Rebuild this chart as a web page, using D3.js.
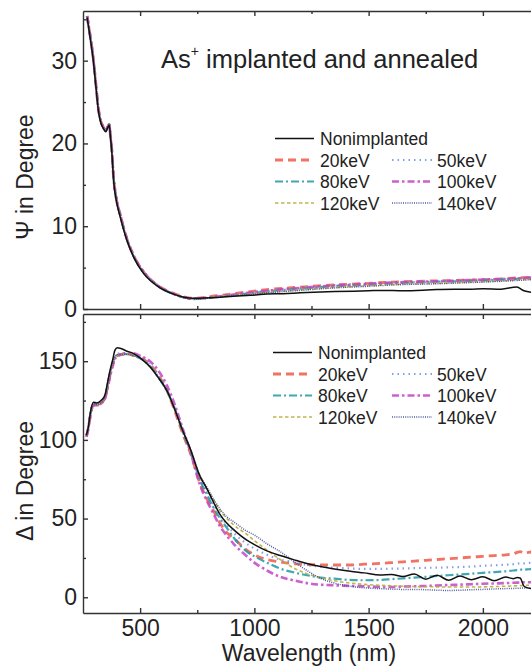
<!DOCTYPE html>
<html>
<head>
<meta charset="utf-8">
<script src="https://cdn.jsdelivr.net/npm/d3@7"></script>
<style>
  html, body { margin: 0; padding: 0; background: #fff; }
  svg { display: block; font-family: "Liberation Sans", Arial, sans-serif; }
  .axis path, .axis line { stroke: #333; stroke-width: 1.4; }
  .axis text { font-size: 23px; fill: #222; }
</style>
</head>
<body>
<svg id="chart" width="531" height="670"></svg>
<script>
// --- data ---
const seriesNames = ['Nonimplanted', '20keV', '50keV', '80keV', '100keV', '120keV', '140keV'];

// Psi panel
const psiWl = [268, 280, 295, 306, 317, 328, 339, 350, 358, 365, 370, 376, 384, 395, 413, 442, 471, 515, 574,
  646, 734, 836, 909, 982, 1055, 1127, 1200, 1350, 1500, 1565, 1650, 1800, 1950, 2002, 2080, 2148, 2180, 2220];
const psiNon = [35.2, 33, 30, 27, 24, 22.5, 21.8, 21.4, 21.9, 22.2, 20.8, 19, 15.5, 13.2, 11.1, 8.3, 6.3, 4.3, 2.8,
  1.8, 1.3, 1.4, 1.55, 1.65, 1.8, 1.85, 1.95, 2.1, 2.2, 2.25, 2.2, 2.35, 2.4, 2.45, 2.4, 2.65, 2.2, 2.0];
const psi20 = [35.4, 33.3, 30.3, 27.3, 24.3, 22.7, 22, 21.6, 22, 22.3, 21, 19.3, 15.9, 13.5, 11.4, 8.5, 6.5, 4.5, 2.9,
  1.9, 1.3, 1.6, 1.85, 2.1, 2.35, 2.5, 2.65, 2.9, 3.1, 3.2, 3.3, 3.4, 3.5, 3.55, 3.65, 3.75, 3.8, 3.85];
const psi50 = [35.4, 33.3, 30.3, 27.3, 24.3, 22.7, 22, 21.6, 22, 22.3, 21, 19.3, 15.9, 13.5, 11.4, 8.5, 6.5, 4.5, 2.9,
  1.85, 1.25, 1.5, 1.7, 1.95, 2.2, 2.35, 2.5, 2.8, 3.0, 3.1, 3.2, 3.3, 3.45, 3.5, 3.6, 3.7, 3.75, 3.8];
const psi80 = [35.3, 33.2, 30.2, 27.2, 24.2, 22.6, 21.9, 21.5, 22, 22.3, 20.9, 19.2, 15.8, 13.4, 11.3, 8.4, 6.4, 4.4, 2.85,
  1.8, 1.2, 1.45, 1.65, 1.9, 2.1, 2.3, 2.45, 2.75, 2.95, 3.05, 3.15, 3.3, 3.4, 3.45, 3.55, 3.65, 3.7, 3.75];
const psi100 = [35.4, 33.3, 30.3, 27.3, 24.3, 22.7, 22, 21.6, 22, 22.3, 21, 19.3, 15.9, 13.5, 11.4, 8.5, 6.5, 4.5, 2.9,
  1.85, 1.25, 1.5, 1.75, 2.0, 2.2, 2.4, 2.55, 2.85, 3.05, 3.15, 3.25, 3.35, 3.5, 3.55, 3.6, 3.7, 3.75, 3.8];
const psi120 = [35.3, 33.2, 30.2, 27.2, 24.2, 22.6, 21.9, 21.5, 22, 22.3, 20.9, 19.2, 15.8, 13.4, 11.3, 8.4, 6.4, 4.4, 2.85,
  1.8, 1.25, 1.45, 1.6, 1.8, 2.0, 2.15, 2.3, 2.6, 2.8, 2.9, 3.0, 3.1, 3.25, 3.3, 3.4, 3.5, 3.55, 3.6];
const psi140 = [35.3, 33.2, 30.2, 27.2, 24.2, 22.6, 21.9, 21.5, 22, 22.3, 20.9, 19.2, 15.8, 13.4, 11.3, 8.4, 6.4, 4.4, 2.85,
  1.8, 1.2, 1.4, 1.6, 1.75, 1.95, 2.1, 2.25, 2.55, 2.75, 2.85, 2.95, 3.05, 3.2, 3.25, 3.35, 3.45, 3.5, 3.55];

// Delta panel
const deltaWl = [265, 273, 283, 295, 310, 331, 346, 358, 368, 380, 390, 400, 412, 440, 470, 505, 543, 580, 616, 650,
  689, 719, 763, 790, 821, 850, 880, 909, 967, 1000, 1055, 1113, 1180, 1230, 1290, 1350, 1420, 1480, 1550, 1600,
  1650, 1700, 1750, 1800, 1850, 1900, 1950, 2000, 2050, 2100, 2133, 2150, 2163, 2180, 2200, 2220];
const deltaNon = [103, 108, 118, 124, 123.5, 125.3, 128.5, 137, 144, 151, 157, 158.5, 158.3, 156.5, 155, 151.5, 146.5, 139.5, 131.7, 120,
  105, 94.5, 76.5, 69.5, 60.5, 52.5, 47, 43, 36.3, 33.5, 29.5, 26.5, 23.5, 21.4, 19.5, 18, 16.5, 15.5, 14.2, 14.5,
  13.2, 14.8, 11.5, 14, 10.8, 13.5, 11.2, 13, 10.5, 12.8, 11.8, 12.5, 12.2, 7, 5.8, 5.5];
const delta20 = [102, 107, 116, 122, 122, 123.5, 126.5, 134, 141, 148, 152, 153.5, 154, 154.5, 154, 152, 148, 141, 132, 119,
  103, 92, 72, 63, 55, 47, 41, 37.5, 30, 27, 24, 22.5, 21.2, 20.8, 20.6, 20.5, 20.5, 21, 21.5, 22,
  22.5, 23, 23.5, 24, 24.5, 25, 25.5, 26, 26.5, 27, 27.5, 28.5, 29, 28, 28.5, 29];
const delta50 = [103, 108, 117, 123, 122.5, 124, 127, 135, 142, 149, 153, 154.5, 155, 155, 154, 152, 147.5, 140.5, 132, 121,
  105, 94, 75, 68, 59, 52, 46, 41, 34, 31, 27, 24, 22, 20.5, 19.5, 18.8, 18.3, 18, 18, 18.2,
  18.3, 18.5, 18.7, 18.8, 19, 19.2, 19.5, 20, 20.3, 20.7, 21, 21.3, 21.5, 21.5, 21.8, 22];
const delta80 = [103, 107, 117, 123, 122.5, 124, 127, 135, 142, 149, 153, 154, 154.5, 154.5, 153.5, 151.5, 147, 140, 131.5, 120.5,
  104, 93, 74, 66, 57, 50, 44, 38, 29, 26, 22, 18.2, 15.5, 14, 12.5, 11.8, 11, 10.8, 11, 11.5,
  12, 12.5, 13, 13.5, 14, 14.5, 15, 15.5, 16, 16.5, 17, 17.2, 17.5, 17.5, 17.8, 18];
const delta100 = [102, 107, 116, 122, 122, 123.5, 126, 133, 140, 147, 151.5, 153, 154, 155, 155, 153, 150, 144, 135, 123,
  106, 93, 71, 62, 53, 45, 39, 34, 26, 22, 17, 13, 10.5, 9, 8, 7.6, 7.2, 7, 6.6, 6.5,
  6.8, 7, 7.2, 7.5, 7.8, 8, 8.3, 8.6, 8.8, 9, 9.2, 9.3, 9.4, 9.5, 9.5, 9.6];
const delta120 = [103, 108, 117, 123, 122.5, 124, 127, 135, 142, 149, 153, 154, 154.5, 154.5, 153.5, 151.5, 146.5, 139.5, 131, 120,
  105, 94.5, 77, 70, 62, 55, 50, 46, 40, 36, 30, 24, 18, 15, 12.5, 10.5, 9, 8.2, 7.6, 7.3,
  7, 6.8, 6.7, 6.6, 6.5, 6.5, 6.5, 6.6, 6.8, 7, 7.2, 7.3, 7.4, 7.5, 7.6, 7.6];
const delta140 = [103, 108, 117, 123, 122.5, 124, 127, 135, 142, 149, 153, 154, 154.5, 154.5, 153.5, 151.5, 146.5, 139.5, 131, 120,
  105, 94.5, 77, 70.5, 62.5, 56, 51, 48, 42, 39.5, 34, 29, 22, 17, 12, 9, 7, 6, 5.5, 5.2,
  5, 5, 4.8, 4.5, 4.3, 4.5, 4.8, 5, 5.3, 5.5, 5.6, 5.7, 5.8, 5.9, 6, 6];

const xMajor = [500, 1000, 1500, 2000];
const xMinor = [750, 1250, 1750, 2250];
const psiMajor = [0, 10, 20, 30];
const psiMinor = [5, 15, 25, 35];
const deltaMajor = [0, 50, 100, 150];
const deltaMinor = [25, 75, 125, 175];

// --- styles per series (same order as seriesNames) ---
const styles = [
    { color: '#111111', dash: null, width: 1.5, opacity: 1 },
    { color: '#ee5a48', dash: '8 5', width: 2.8, opacity: 0.85 },
    { color: '#6d8fe6', dash: '1.5 4', width: 2.2, opacity: 0.85 },
    { color: '#1e98a6', dash: '8 3 2 3', width: 2.2, opacity: 0.85 },
    { color: '#c344c6', dash: '7 3 2.5 3', width: 2.6, opacity: 0.85 },
    { color: '#b9ad3a', dash: '3.5 2.5', width: 1.6, opacity: 0.9 },
    { color: '#3f4a96', dash: '1 1.2', width: 1.5, opacity: 0.9 }
];

const svg = d3.select('#chart');
const x = d3.scaleLinear().domain([250, 2250]).range([83, 540]);
const yPsi = d3.scaleLinear().domain([0, 36]).range([309, 11]);
const yDelta = d3.scaleLinear().domain([-10, 180]).range([613, 314]);

function drawPanel(wl, seriesVals, y, major, minor, withXLabels, clipId) {
    const [y0, y1] = y.range();
    svg.append('clipPath').attr('id', clipId)
        .append('rect').attr('x', 83).attr('y', y1).attr('width', 460).attr('height', y0 - y1);

    const g = svg.append('g').attr('clip-path', `url(#${clipId})`);
    // implanted first, nonimplanted last so the black line sits on top
    const order = [1, 2, 3, 4, 5, 6, 0];
    order.forEach((i) => {
        const st = styles[i];
        const pts = wl.map((w, k) => [w, seriesVals[i][k]]);
        g.append('path')
            .datum(pts)
            .attr('fill', 'none')
            .attr('stroke', st.color)
            .attr('stroke-width', st.width)
            .attr('stroke-dasharray', st.dash)
            .attr('stroke-opacity', st.opacity)
            .attr('stroke-linejoin', 'round')
            .attr('d', d3.line().x((d) => x(d[0])).y((d) => y(d[1])).curve(d3.curveMonotoneX));
    });

    // bottom axis
    svg.append('g').attr('class', 'axis').attr('transform', `translate(0,${y0})`)
        .call(d3.axisBottom(x).tickValues(xMajor).tickSizeInner(-5).tickSizeOuter(0).tickPadding(7)
            .tickFormat(withXLabels ? d3.format('d') : () => ''));
    svg.append('g').attr('class', 'axis').attr('transform', `translate(0,${y0})`)
        .call(d3.axisBottom(x).tickValues(xMinor).tickSizeInner(-3).tickSizeOuter(0).tickFormat(() => ''))
        .select('.domain').remove();
    // top axis
    svg.append('g').attr('class', 'axis').attr('transform', `translate(0,${y1})`)
        .call(d3.axisTop(x).tickValues(xMajor).tickSizeInner(-5).tickSizeOuter(0).tickFormat(() => ''));
    svg.append('g').attr('class', 'axis').attr('transform', `translate(0,${y1})`)
        .call(d3.axisTop(x).tickValues(xMinor).tickSizeInner(-3).tickSizeOuter(0).tickFormat(() => ''))
        .select('.domain').remove();
    // left axis
    svg.append('g').attr('class', 'axis').attr('transform', 'translate(83,0)')
        .call(d3.axisLeft(y).tickValues(major).tickSizeInner(-5).tickSizeOuter(0).tickPadding(6));
    svg.append('g').attr('class', 'axis').attr('transform', 'translate(83,0)')
        .call(d3.axisLeft(y).tickValues(minor).tickSizeInner(-3).tickSizeOuter(0).tickFormat(() => ''))
        .select('.domain').remove();
}

drawPanel(psiWl, [psiNon, psi20, psi50, psi80, psi100, psi120, psi140], yPsi, psiMajor, psiMinor, false, 'clip-psi');
drawPanel(deltaWl, [deltaNon, delta20, delta50, delta80, delta100, delta120, delta140], yDelta, deltaMajor, deltaMinor, true, 'clip-delta');

// axis titles
svg.append('text')
    .attr('transform', 'translate(33,177) rotate(-90)')
    .attr('text-anchor', 'middle').attr('font-size', 23).attr('fill', '#222')
    .text('Ψ in Degree');
svg.append('text')
    .attr('transform', 'translate(33,481) rotate(-90)')
    .attr('text-anchor', 'middle').attr('font-size', 23).attr('fill', '#222')
    .text('Δ in Degree');
svg.append('text')
    .attr('x', 309).attr('y', 661)
    .attr('text-anchor', 'middle').attr('font-size', 23).attr('fill', '#222')
    .text('Wavelength (nm)');

// title
const title = svg.append('text').attr('x', 161).attr('y', 68).attr('font-size', 25.5).attr('fill', '#222');
title.append('tspan').text('As');
title.append('tspan').attr('font-size', 14).attr('dy', -12).text('+');
title.append('tspan').attr('dy', 12).text(' implanted and annealed');

// legends
function drawLegend(x0, yBase) {
    const lg = svg.append('g').attr('font-size', 17.5).attr('fill', '#222');
    const rows = [
        { i: 0, col: 0, row: 0 },
        { i: 1, col: 0, row: 1 }, { i: 2, col: 1, row: 1 },
        { i: 3, col: 0, row: 2 }, { i: 4, col: 1, row: 2 },
        { i: 5, col: 0, row: 3 }, { i: 6, col: 1, row: 3 }
    ];
    rows.forEach((r) => {
        const st = styles[r.i];
        const lx = r.col === 0 ? x0 : 392;
        const lw = r.col === 0 ? 39 : 40;
        const by = yBase + r.row * 21.5;
        lg.append('line')
            .attr('x1', lx).attr('x2', lx + lw)
            .attr('y1', by - 6.5).attr('y2', by - 6.5)
            .attr('stroke', st.color).attr('stroke-width', st.width)
            .attr('stroke-dasharray', st.dash).attr('stroke-opacity', st.opacity);
        lg.append('text').attr('x', lx + lw + (r.col === 0 ? 6 : 5)).attr('y', by).text(seriesNames[r.i]);
    });
}
drawLegend(275, 145);
drawLegend(273, 359);
</script>
</body>
</html>
